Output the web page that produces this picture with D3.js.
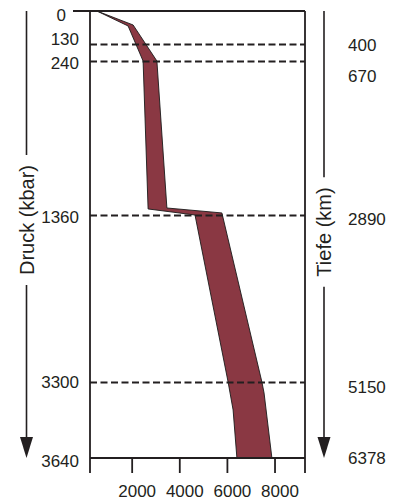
<!DOCTYPE html>
<html>
<head>
<meta charset="utf-8">
<script src="https://cdn.jsdelivr.net/npm/d3@7"></script>
<style>
  body { margin: 0; background: #fff; }
  text { font-family: "Liberation Sans", Arial, sans-serif; fill: #231f20; }
</style>
</head>
<body>
<div id="chart"></div>
<script>
// Druck (kbar) ticks and the matching Tiefe (km) labels
let pressTicks = [0, 130, 240, 1360, 3300, 3640];
let depthPress = [130, 240, 1360, 3300, 3640];
let depthTicks = [400, 670, 2890, 5150, 6378];
let boundaries = [130, 240, 1360, 3300];
let tempTicks = [2000, 4000, 6000, 8000];

// temperature band, left (cold) and right (hot) edge
let leftP  = [0, 59, 240, 1316, 1360, 3300, 3425, 3640];
let leftT  = [540, 1850, 2480, 2690, 4660, 6050, 6260, 6420];
let rightP = [0, 55, 240, 1309, 1345, 3300, 3349, 3640];
let rightT = [540, 2060, 3060, 3480, 5790, 7470, 7560, 7890];

let W = 397, H = 502;
let margin = {top: 11, left: 90, right: 92, bottom: 44};
let width = W - margin.left - margin.right;
let height = H - margin.top - margin.bottom;
let ink = "#231f20";

// axis is not linear: each boundary sits at its own fraction of the height
let yFrac = [0, 0.0738, 0.1119, 0.4564, 0.83, 1];

let x = d3.scaleLinear().domain([250, 9280]).range([0, width]);
let y = d3.scaleLinear().domain(pressTicks).range(yFrac.map(f => f * height));

let svg = d3.select("#chart").append("svg")
    .attr("width", W)
    .attr("height", H)
  .append("g")
    .attr("transform", `translate(${margin.left}, ${margin.top})`);

// band
let pts = leftP.map((p, i) => [leftT[i], p])
  .concat(rightP.map((p, i) => [rightT[i], p]).reverse());
svg.append("path")
    .datum(pts)
    .attr("fill", "#8a3843")
    .attr("stroke", "#1a1a1a")
    .attr("stroke-width", 0.9)
    .attr("stroke-linejoin", "round")
    .attr("d", d3.line().x(d => x(d[0])).y(d => y(d[1])).curve(d3.curveLinearClosed));

// dashed boundaries
svg.selectAll(".bound")
  .data(boundaries)
  .enter().append("line")
    .attr("x1", 0).attr("x2", width)
    .attr("y1", d => Math.round(y(d)) + 0.5).attr("y2", d => Math.round(y(d)) + 0.5)
    .attr("stroke", ink)
    .attr("stroke-width", 2)
    .attr("stroke-dasharray", "7,3.5");

// frame
let frame = [
  [-17, 0, width, 0],
  [0, 0, 0, height + 15],
  [width, 0, width, height + 15],
  [0, height, width, height]
];
svg.selectAll(".frame")
  .data(frame)
  .enter().append("line")
    .attr("x1", d => d[0]).attr("y1", d => d[1])
    .attr("x2", d => d[2]).attr("y2", d => d[3])
    .attr("stroke", ink)
    .attr("stroke-width", 1.8);

// x axis
let xAxis = d3.axisBottom(x).tickValues(tempTicks).tickFormat(d3.format("d"))
    .tickSize(15).tickPadding(12);
let gx = svg.append("g")
    .attr("transform", `translate(0, ${height})`)
    .call(xAxis);
gx.select(".domain").remove();
gx.selectAll(".tick line").attr("stroke", ink).attr("stroke-width", 1.8);
gx.selectAll(".tick text")
    .attr("dx", 5)
    .style("font-size", "17px")
    .style("font-family", '"Liberation Sans", Arial, sans-serif')
    .attr("fill", ink);

// left labels (pressure)
let leftNudge = {0: 4, 130: -5, 240: 2, 1360: 2, 3300: 0, 3640: 3};
svg.selectAll(".plab")
  .data(pressTicks)
  .enter().append("text")
    .attr("x", d => d === 0 ? -24 : -11)
    .attr("y", d => y(d) + leftNudge[d])
    .attr("dy", "0.36em")
    .attr("text-anchor", "end")
    .style("font-size", "17px")
    .text(d => d);

// right labels (depth)
let rightNudge = [1, 15, 4, 5, 0];
svg.selectAll(".dlab")
  .data(depthTicks)
  .enter().append("text")
    .attr("x", width + 43)
    .attr("y", (d, i) => y(depthPress[i]) + rightNudge[i])
    .attr("dy", "0.36em")
    .style("font-size", "17px")
    .text(d => d);

// axis titles with arrows
function arrowTitle(cx, cy, label, tipY) {
  let t = svg.append("text")
      .attr("transform", `translate(${cx}, ${cy}) rotate(-90)`)
      .attr("text-anchor", "middle")
      .attr("dy", "0.35em")
      .style("font-size", "20px")
      .text(label);
  let half = t.node().getComputedTextLength() / 2;
  let gap = 10;
  svg.append("line")
      .attr("x1", cx).attr("x2", cx)
      .attr("y1", 0).attr("y2", cy - half - gap)
      .attr("stroke", ink).attr("stroke-width", 1.6);
  svg.append("line")
      .attr("x1", cx).attr("x2", cx)
      .attr("y1", cy + half + gap).attr("y2", tipY - 20)
      .attr("stroke", ink).attr("stroke-width", 1.6);
  svg.append("path")
      .attr("d", `M${cx - 6.5},${tipY - 21} L${cx + 6.5},${tipY - 21} L${cx},${tipY} Z`)
      .attr("fill", ink);
}
arrowTitle(-63.5, 209, "Druck (kbar)", height);
arrowTitle(234, 221, "Tiefe (km)", height);
</script>
</body>
</html>
